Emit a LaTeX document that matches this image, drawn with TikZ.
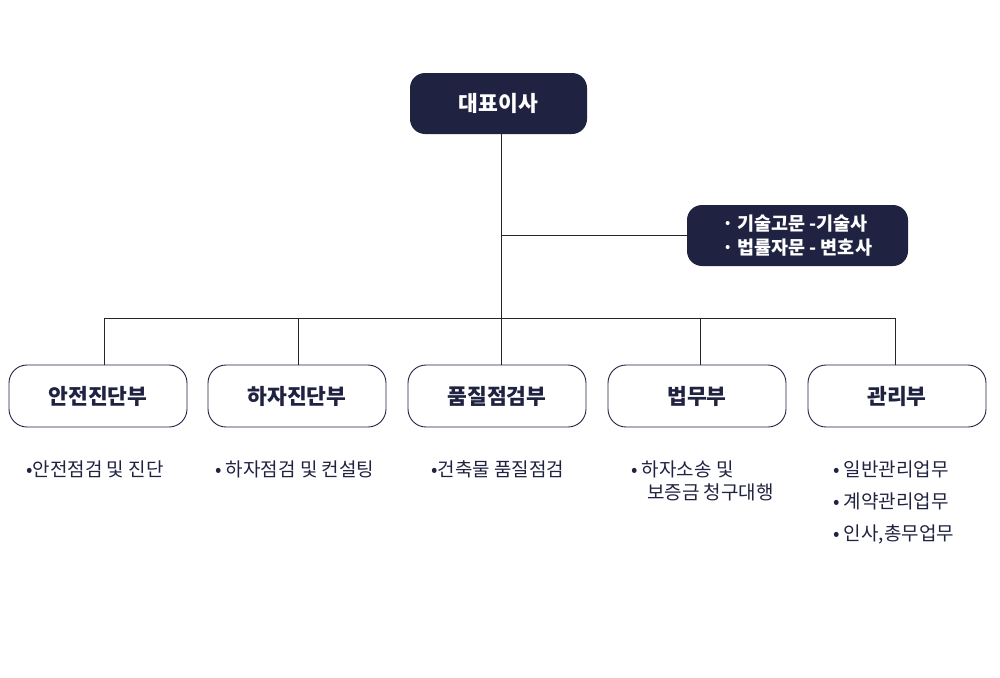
\documentclass[tikz,border=0pt]{standalone}
\usepackage{fontspec}
\setmainfont{Noto Sans CJK KR}
\usetikzlibrary{positioning}
\definecolor{navy}{HTML}{1F2341}
\tikzset{>=latex}

\begin{document}
\begin{tikzpicture}[x=1pt,y=-1pt,
  darkbox/.style={fill=navy,text=white,rounded corners=15pt,inner sep=0pt,minimum height=61pt},
  deptbox/.style={draw=navy,line width=0.9pt,fill=white,text=navy,rounded corners=18pt,inner sep=0pt,minimum width=178pt,minimum height=62pt,font=\bfseries\fontsize{21.5}{24}\selectfont},
  duty/.style={anchor=base west,inner sep=0pt,text=navy,font=\fontsize{19}{23}\selectfont},
  orgline/.style={draw=black!85,line width=0.8pt}]
\useasboundingbox (0,0) rectangle (1000,677);
% top and advisers
\node[darkbox,minimum width=177pt,font=\bfseries\fontsize{21.5}{24}\selectfont] (ceo) at (498.5,103.5) {대표이사};
\node[darkbox,minimum width=221pt,align=left,font=\bfseries\fontsize{18.5}{24}\selectfont] (adv) at (797.5,235.5) {·\,기술고문 -기술사\\·\,법률자문 - 변호사};
% departments
\node[deptbox] (d1) at (98,396) {안전진단부};
\node[deptbox] (d2) at (297,396) {하자진단부};
\node[deptbox] (d3) at (497,396) {품질점검부};
\node[deptbox] (d4) at (697,396) {법무부};
\node[deptbox] (d5) at (897,396) {관리부};
% lines
\coordinate (bus) at (501,318);
\draw[orgline] (ceo.south -| bus) -- (bus);
\draw[orgline] (bus |- adv.west) -- (adv.west);
\draw[orgline] ([xshift=6pt]d1.north) -- ([xshift=6pt]d1.north |- bus) -- ([xshift=-2pt]d5.north |- bus) -- ([xshift=-2pt]d5.north);
\draw[orgline] ([xshift=1pt]d2.north) -- ([xshift=1pt]d2.north |- bus);
\draw[orgline] (d3.north -| bus) -- (bus);
\draw[orgline] ([xshift=3pt]d4.north) -- ([xshift=3pt]d4.north |- bus);
% duties
\node[duty] (t1) at (26,476) {•안전점검 및 진단};
\node[duty] (t2) at (215,476) {• 하자점검 및 컨설팅};
\node[duty] (t3) at (431,476) {•건축물 품질점검};
\node[duty] (t4a) at (631,476) {• 하자소송 및};
\node[duty] (t4b) at (647,499) {보증금 청구대행};
\node[duty] (t5a) at (833,476) {• 일반관리업무};
\node[duty] (t5b) at (833,508) {• 계약관리업무};
\node[duty] (t5c) at (833,540) {• 인사,총무업무};
\end{tikzpicture}
\end{document}
